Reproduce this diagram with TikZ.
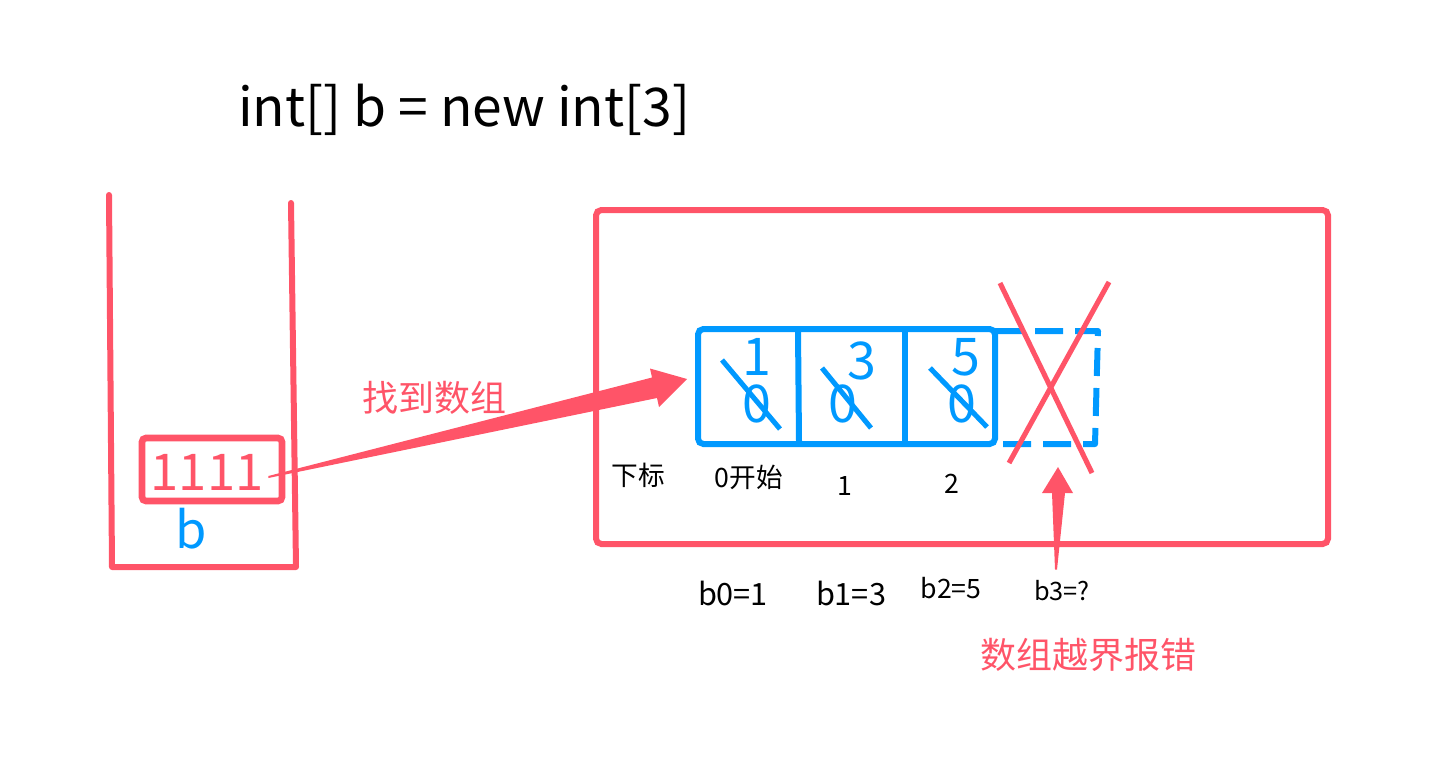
\documentclass[tikz,border=0pt]{standalone}
\usepackage{fontspec}
\setmainfont{Noto Sans CJK SC}
\usepackage{tikz}
\usetikzlibrary{calc, positioning}
\definecolor{memred}{RGB}{255,84,104}
\definecolor{slotblue}{RGB}{0,153,255}
\tikzset{
    txt/.style={inner sep=0pt, font=\fontsize{#1pt}{#1pt}\selectfont},
    memline/.style={draw=memred, line width=4.5pt, line cap=round, line join=round},
    slotline/.style={draw=slotblue, line width=4.5pt, line join=round},
    refbox/.style={rectangle, draw=memred, line width=5pt, rounded corners=3pt, minimum width=105pt, minimum height=47.25pt, inner sep=0pt},
    heapbox/.style={rectangle, draw=memred, line width=4.5pt, rounded corners=4pt, minimum width=549pt, minimum height=250.5pt},
    arraybox/.style={rectangle, draw=slotblue, line width=4.5pt, rounded corners=4pt, minimum width=222.75pt, minimum height=86.25pt},
    strike/.style={draw=slotblue, line width=3.8pt},
    crossout/.style={draw=memred, line width=3.8pt}
}

\begin{document}
\begin{tikzpicture}[x=0.75pt, y=-0.75pt,
    cellval/.style={txt=39, text=slotblue},
    idx/.style={txt=#1, text=black}
]
\useasboundingbox (0,0) rectangle (1433,765);

\node[txt=40, anchor=west] (decl) at (238,110) {int[] b = new int[3]};

\draw[memline] (109,195) -- (112,567) -- (296,567) -- (291,203);
\node[refbox] (ref) at (212,469.5) {};
\node[txt=38, text=memred] (addr) at (207,472) {1111};
\node[txt=38, text=slotblue, below=3pt of ref.south -| addr, xshift=-12pt] (var) {b};

\node[heapbox] (heap) at (962,377) {};
\node[arraybox] (arr) at (846.5,386.5) {};
\draw[slotline] (798,331) -- (799,442);
\draw[slotline] (905,331) -- (905,442);
\coordinate (ghost) at (995,331);
\draw[slotline, dash pattern=on 21pt off 9pt] (ghost) -- (1098,331) -- (1095,444) -- (995,444);

\node[cellval] (v0) at (757,357) {1};
\node[cellval] (z0) at (757,404) {0};
\node[cellval] (v1) at (862,361) {3};
\node[cellval] (z1) at (843,404) {0};
\node[cellval] (v2) at (966,357) {5};
\node[cellval] (z2) at (962,404) {0};
\draw[strike] (722,360) -- (780,429);
\draw[strike] (822,368) -- (871,428);
\draw[strike] (930,368) -- (987,427);

\draw[crossout] (1000,283) -- (1092,473);
\draw[crossout] (1109,282) -- (1009,463);

\fill[memred] ($(ref.east)+(-17,6.5)$) -- ($(arr.west)+(-43,-9)$) -- ($(arr.west)+(-45,-18)$)
    -- ($(arr.west)+(-8,-7.5)$) -- ($(arr.west)+(-36,20.5)$) -- ($(arr.west)+(-38,11.5)$)
    -- ($(ref.east)+(-17,8.5)$) -- cycle;
\node[txt=27, text=memred] (found) at (434,398) {找到数组};

\node[idx=20] (sub) at (638,475) {下标};
\node[idx=20] (i0) at (749,477) {0开始};
\node[idx=20] (i1) at (845,486) {1};
\node[idx=20] (i2) at (952,484) {2};

\node[idx=23] (b0) at (733,593) {b0=1};
\node[idx=23] (b1) at (851,593) {b1=3};
\node[idx=20] (b2) at (951,588) {b2=5};
\node[idx=19] (b3) at (1062,591) {b3=?};

\fill[memred] ($(b3.north)+(-7,-11)$) -- ($(ghost)+(57,162)$) -- ($(ghost)+(47,162)$)
    -- ($(ghost)+(63,136)$) -- ($(ghost)+(78,162)$) -- ($(ghost)+(70,162)$)
    -- ($(b3.north)+(-5,-11)$) -- cycle;
\node[txt=27, text=memred] (oob) at (1088,655) {数组越界报错};

\end{tikzpicture}
\end{document}
